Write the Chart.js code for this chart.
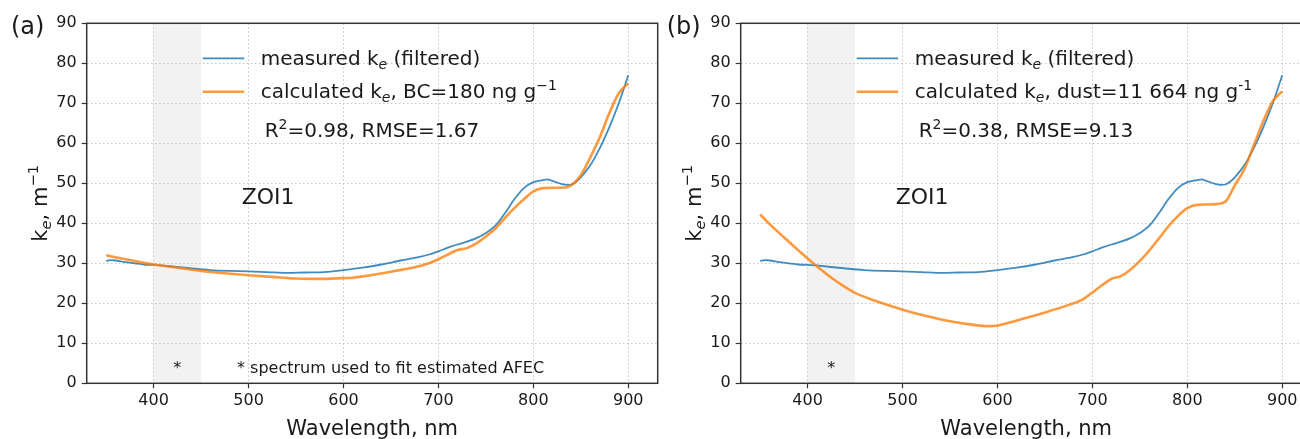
<!DOCTYPE html>
<html>
<head>
<meta charset="utf-8">
<title>ZOI1 – measured vs calculated k_e</title>
<script src="https://cdn.jsdelivr.net/npm/chart.js@4.4.1/dist/chart.umd.min.js"></script>
<style>
  html, body { margin: 0; padding: 0; background: #fff; }
  body { position: relative; width: 1300px; height: 439px; overflow: hidden; }
  canvas { position: absolute; top: 0; }
  #panelA { left: 0; }
  #panelB { left: 654px; }
</style>
</head>
<body>
<canvas id="panelA" width="660" height="439"></canvas>
<canvas id="panelB" width="680" height="439"></canvas>
<script>
/* ── DATA ─────────────────────────────────────────────── */
const xTicks = [400, 500, 600, 700, 800, 900];
const yTicks = [0, 10, 20, 30, 40, 50, 60, 70, 80, 90];
const spanWl = [400, 450];   // spectrum used for the AFEC fit

// measured k_e (filtered), same in both panels
const measWl = [350, 355, 360, 370, 380, 390, 400, 420, 440, 460, 480, 500, 520, 540, 560, 580,
                600, 620, 640, 660, 680, 690, 700, 710, 720, 730, 740, 750, 760, 770, 780, 790,
                800, 810, 815, 820, 830, 835, 840, 845, 850, 860, 870, 880, 890, 900];
const measKe = [30.6, 30.8, 30.7, 30.3, 30.0, 29.7, 29.6, 29.2, 28.7, 28.3, 28.1, 28.0, 27.8, 27.6, 27.7, 27.8,
                28.3, 28.9, 29.7, 30.7, 31.6, 32.2, 33.0, 33.9, 34.7, 35.4, 36.3, 37.6, 39.4, 42.5, 46.0, 48.8,
                50.3, 50.8, 51.0, 50.6, 49.8, 49.6, 49.7, 50.4, 51.5, 54.5, 58.8, 64.0, 70.0, 77.0];

// (a) calculated k_e, BC = 180 ng/g
const calcAWl = [350, 375, 400, 425, 450, 475, 500, 525, 550, 575, 600, 610, 625, 650, 675, 690, 700,
                 710, 720, 730, 740, 750, 760, 770, 780, 790, 800, 810, 820, 830, 840, 850, 860, 870,
                 880, 890, 900];
const calcAKe = [32.0, 30.8, 29.7, 28.9, 28.1, 27.5, 27.0, 26.6, 26.2, 26.1, 26.3, 26.4, 26.9, 27.9, 29.0, 30.0, 31.0,
                 32.2, 33.3, 33.8, 35.0, 36.7, 38.7, 41.3, 43.8, 46.0, 48.0, 48.8, 48.9, 48.9, 49.5, 52.0, 56.5, 61.5,
                 67.5, 72.5, 75.0];

// (b) calculated k_e, dust = 11 664 ng/g
const calcBWl = [350, 360, 375, 390, 400, 410, 425, 440, 450, 475, 500, 525, 550, 575, 590, 600, 610, 625,
                 650, 675, 690, 700, 710, 720, 730, 740, 750, 760, 770, 780, 790, 800, 810, 820, 830, 840,
                 850, 860, 870, 880, 890, 900];
const calcBKe = [42.2, 39.8, 36.5, 33.3, 31.2, 29.2, 26.4, 24.0, 22.6, 20.3, 18.4, 16.8, 15.5, 14.6, 14.3, 14.4, 15.0, 16.0,
                 17.7, 19.6, 21.0, 22.7, 24.5, 26.1, 26.8, 28.4, 30.6, 33.2, 36.2, 39.2, 41.8, 43.8, 44.6, 44.7, 44.8, 45.4,
                 49.5, 53.5, 59.5, 65.5, 70.5, 73.0];

/* ── STYLE ────────────────────────────────────────────── */
const FONT   = "'DejaVu Sans', 'Liberation Sans', sans-serif";
const INK    = '#1a1a1a';
const BLUE   = 'rgba(31,119,180,0.85)';
const ORANGE = 'rgba(255,127,14,0.8)';
const SHADE  = '#f2f2f2';
const GRID   = '#c4c4c4';

const toXY = (xs, ys) => xs.map((x, i) => ({ x, y: ys[i] }));

/* rich text: parts = [[text, 'sub'|'sup'|undefined], ...] */
function drawRich(ctx, parts, x, y, size, align) {
  const spans = parts.map(([t, mode]) => {
    const s = mode ? size * 0.7 : size;
    const font = (mode === 'sub' ? 'italic ' : '') + s + 'px ' + FONT;
    ctx.font = font;
    return { t, mode, font, w: ctx.measureText(t).width };
  });
  const total = spans.reduce((acc, s) => acc + s.w, 0);
  let cx = align === 'center' ? x - total / 2 : x;
  ctx.textAlign = 'left';
  ctx.textBaseline = 'alphabetic';
  spans.forEach(s => {
    const dy = s.mode === 'sub' ? size * 0.2 : s.mode === 'sup' ? -size * 0.42 : 0;
    ctx.font = s.font;
    ctx.fillText(s.t, cx, y + dy);
    cx += s.w;
  });
}

/* ── DECORATION PLUGIN ────────────────────────────────── */
const deco = {
  id: 'deco',
  beforeDraw(chart) {
    const { ctx, chartArea: a, scales: { x } } = chart;
    const x0 = x.getPixelForValue(spanWl[0]);
    const x1 = x.getPixelForValue(spanWl[1]);
    ctx.save();
    ctx.fillStyle = SHADE;
    ctx.fillRect(x0, a.top, x1 - x0, a.bottom - a.top);
    ctx.restore();
  },
  afterDraw(chart, args, o) {
    const { ctx, chartArea: a, scales: { x } } = chart;
    ctx.save();

    // frame
    ctx.strokeStyle = '#333';
    ctx.lineWidth = 1.5;
    ctx.strokeRect(a.left, a.top, a.right - a.left, a.bottom - a.top);

    // legend samples
    ctx.lineCap = 'butt';
    ctx.strokeStyle = BLUE;  ctx.lineWidth = 1.8;
    ctx.beginPath(); ctx.moveTo(a.left + 116, 58.3); ctx.lineTo(a.left + 157.5, 58.3); ctx.stroke();
    ctx.strokeStyle = ORANGE; ctx.lineWidth = 2.6;
    ctx.beginPath(); ctx.moveTo(a.left + 116, 91.7); ctx.lineTo(a.left + 157.5, 91.7); ctx.stroke();

    ctx.fillStyle = INK;
    drawRich(ctx, [['measured k'], ['e', 'sub'], [' (filtered)']], a.left + 174, 64.5, 20);
    drawRich(ctx, o.calcLabel, a.left + 174, 98.3, 20);
    drawRich(ctx, o.fitLabel, a.left + 178, 137, 20);

    // zone name
    ctx.font = '22px ' + FONT;
    ctx.textAlign = 'left';
    ctx.textBaseline = 'alphabetic';
    ctx.fillText('ZOI1', a.left + 155, 204.3);

    // asterisk inside the fit span
    ctx.font = '16px ' + FONT;
    ctx.textAlign = 'center';
    ctx.fillText('*', x.getPixelForValue(425), 373);
    if (o.note) {
      ctx.textAlign = 'left';
      ctx.fillText('* spectrum used to fit estimated AFEC', a.left + 150.3, 373);
    }

    // panel tag
    ctx.font = '24px ' + FONT;
    ctx.textAlign = 'left';
    ctx.fillText(o.tag, o.tagX, 33.5);

    // axis titles
    ctx.font = '21px ' + FONT;
    ctx.textAlign = 'center';
    ctx.fillText('Wavelength, nm', (a.left + a.right) / 2, 435);

    ctx.translate(47, (a.top + a.bottom) / 2);
    ctx.rotate(-Math.PI / 2);
    drawRich(ctx, [['k'], ['e', 'sub'], [', m'], ['\u22121', 'sup']], 0, 0, 21, 'center');

    ctx.restore();
  }
};

/* ── CHARTS ───────────────────────────────────────────── */
function makePanel(id, calcWl, calcKe, opts) {
  const canvas = document.getElementById(id);
  return new Chart(canvas, {
    type: 'line',
    data: {
      datasets: [{
        label: 'measured k_e (filtered)',
        data: toXY(measWl, measKe),
        borderColor: BLUE,
        borderWidth: 1.8,
        pointRadius: 0,
        cubicInterpolationMode: 'monotone',
        order: 2,
      }, {
        label: 'calculated k_e',
        data: toXY(calcWl, calcKe),
        borderColor: ORANGE,
        borderWidth: 2.6,
        pointRadius: 0,
        cubicInterpolationMode: 'monotone',
        order: 1,
      }]
    },
    options: {
      responsive: false,
      animation: false,
      events: [],
      layout: { padding: { top: 23.3, right: canvas.width - 657.7, bottom: 0, left: 0 } },
      plugins: {
        legend: { display: false },
        tooltip: { enabled: false },
        deco: opts,
      },
      scales: {
        x: {
          type: 'linear',
          min: 329.5,
          max: 931,
          afterBuildTicks: s => { s.ticks = xTicks.map(v => ({ value: v })); },
          afterFit: s => { s.height = 55.7; },
          ticks: { font: { family: FONT, size: 16 }, color: INK, padding: 3, maxRotation: 0 },
          grid: { color: GRID, lineWidth: 1, tickLength: 5, tickColor: '#333', tickWidth: 1.2, tickBorderDash: [] },
          border: { display: false, dash: [1.5, 2.5] },
        },
        y: {
          min: 0,
          max: 90,
          afterBuildTicks: s => { s.ticks = yTicks.map(v => ({ value: v })); },
          afterFit: s => { s.width = 86.7; },
          ticks: { font: { family: FONT, size: 16 }, color: INK, padding: 5 },
          grid: { color: GRID, lineWidth: 1, tickLength: 5, tickColor: '#333', tickWidth: 1.2, tickBorderDash: [] },
          border: { display: false, dash: [1.5, 2.5] },
        }
      }
    },
    plugins: [deco]
  });
}

makePanel('panelA', calcAWl, calcAKe, {
  tag: '(a)', tagX: 11, note: true,
  calcLabel: [['calculated k'], ['e', 'sub'], [', BC=180 ng g'], ['\u22121', 'sup']],
  fitLabel:  [['R'], ['2', 'sup'], ['=0.98, RMSE=1.67']],
});

makePanel('panelB', calcBWl, calcBKe, {
  tag: '(b)', tagX: 12.7, note: false,
  calcLabel: [['calculated k'], ['e', 'sub'], [', dust=11 664 ng g'], ['-1', 'sup']],
  fitLabel:  [['R'], ['2', 'sup'], ['=0.38, RMSE=9.13']],
});
</script>
</body>
</html>
